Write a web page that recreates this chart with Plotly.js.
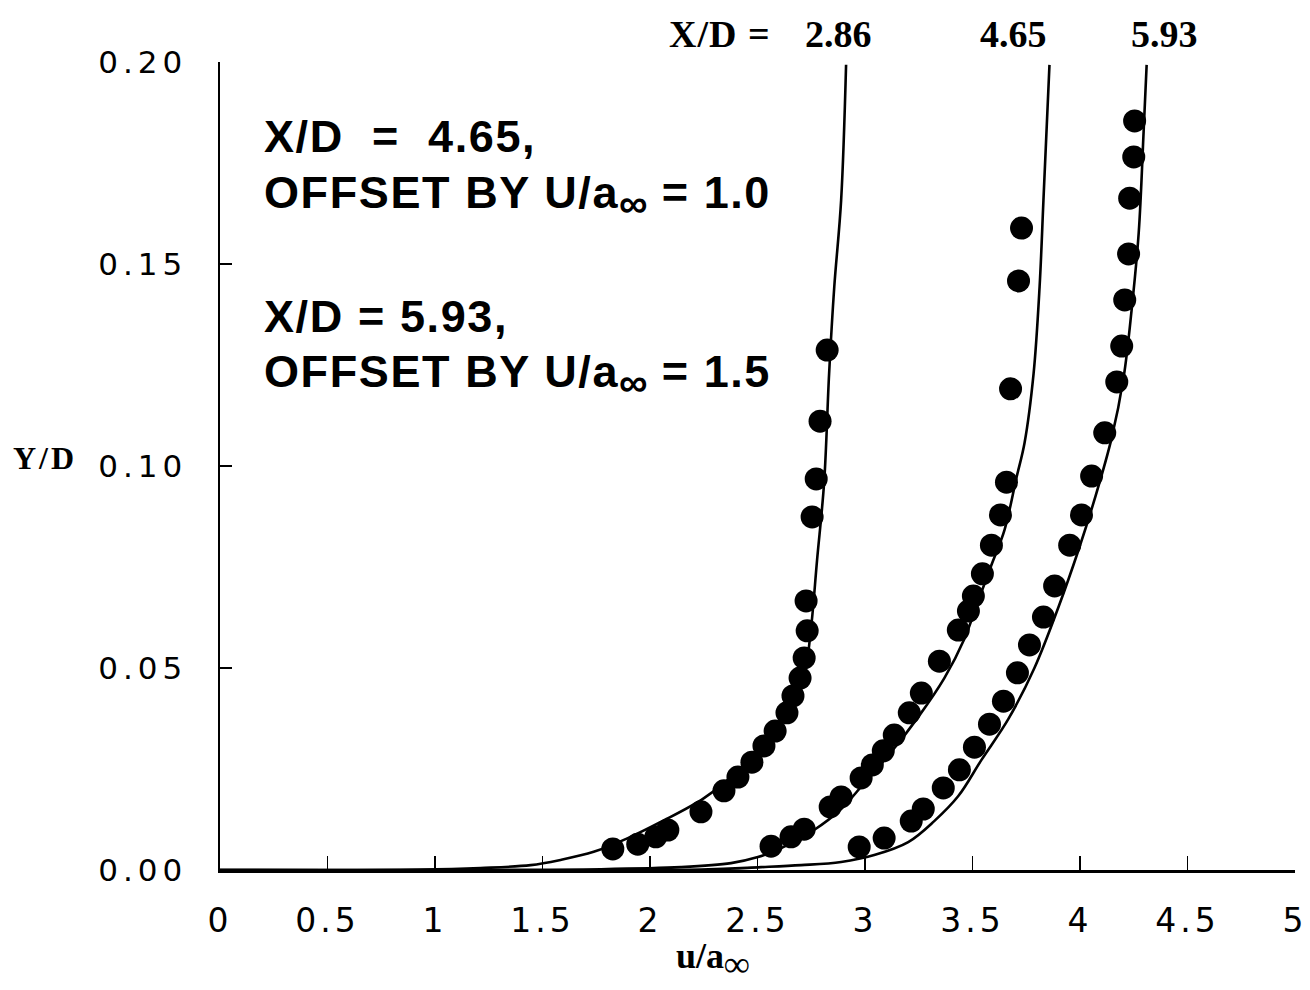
<!DOCTYPE html>
<html>
<head>
<meta charset="utf-8">
<script src="https://cdn.plot.ly/plotly-3.0.1.min.js"></script>
<style>
  html, body { margin: 0; padding: 0; background: #fff; }
  #chart { width: 1310px; height: 990px; }
  .xtick text { letter-spacing: 4px; }
  .ytick text { letter-spacing: 5px; }
</style>
</head>
<body>
<div id="chart"></div>
<script>
// Measured points (filled circles)
const dotsX_286 = [1.827,1.943,2.027,2.083,2.237,2.344,2.409,2.474,2.530,2.582,2.637,2.665,2.698,2.717,2.731,2.726,2.754,2.773,2.791,2.824];
const dotsY_286 = [0.0052,0.0064,0.0082,0.0099,0.0144,0.0196,0.0230,0.0267,0.0307,0.0344,0.0389,0.0431,0.0475,0.0525,0.0592,0.0666,0.0874,0.0968,0.1111,0.1287];

const dotsX_465 = [2.563,2.656,2.717,2.838,2.889,2.982,3.034,3.085,3.136,3.206,3.262,3.346,3.434,3.481,3.504,3.546,3.588,3.630,3.658,3.677,3.714,3.728];
const dotsY_465 = [0.0059,0.0082,0.0101,0.0156,0.0181,0.0228,0.0260,0.0295,0.0334,0.0389,0.0438,0.0517,0.0594,0.0641,0.0678,0.0733,0.0804,0.0879,0.0960,0.1191,0.1458,0.1589];

const dotsX_593 = [2.973,3.089,3.215,3.271,3.364,3.439,3.509,3.579,3.644,3.709,3.765,3.830,3.882,3.952,4.007,4.054,4.115,4.171,4.194,4.208,4.226,4.231,4.250,4.254];
const dotsY_593 = [0.0057,0.0079,0.0121,0.0151,0.0203,0.0248,0.0304,0.0361,0.0418,0.0488,0.0557,0.0626,0.0703,0.0804,0.0879,0.0975,0.1082,0.1208,0.1297,0.1411,0.1525,0.1663,0.1765,0.1854];

// Computed profiles (solid lines)
const curveX_286 = [0,0.932,1.212,1.445,1.584,1.738,1.897,2.050,2.251,2.423,2.549,2.656,2.717,2.749,2.777,2.810,2.833,2.857,2.889,2.912];
const curveY_286 = [0,0.0001,0.0005,0.0012,0.0025,0.0045,0.0079,0.0119,0.0178,0.0252,0.0322,0.0396,0.0478,0.0599,0.0767,0.0960,0.1228,0.1443,0.1658,0.1993];

const curveX_465 = [0,1.771,2.144,2.377,2.502,2.610,2.763,2.889,2.996,3.122,3.248,3.369,3.462,3.528,3.588,3.649,3.704,3.742,3.784,3.812,3.830,3.858];
const curveY_465 = [0,0.0002,0.0007,0.0017,0.0032,0.0054,0.0099,0.0151,0.0215,0.0292,0.0379,0.0475,0.0572,0.0668,0.0755,0.0842,0.0970,0.1057,0.1228,0.1443,0.1658,0.1993];

const curveX_593 = [0,2.237,2.516,2.703,2.889,3.043,3.201,3.322,3.434,3.541,3.667,3.788,3.900,3.993,4.068,4.147,4.203,4.240,4.273,4.296,4.310];
const curveY_593 = [0,0.0001,0.0007,0.0012,0.0020,0.0037,0.0069,0.0121,0.0183,0.0272,0.0374,0.0500,0.0651,0.0792,0.0918,0.1069,0.1220,0.1386,0.1577,0.1829,0.1993];

const xTickVals = [0,0.5,1,1.5,2,2.5,3,3.5,4,4.5,5];
const xTickText = ['0','0.5','1','1.5','2','2.5','3','3.5','4','4.5','5'];
const yTickVals = [0,0.05,0.10,0.15,0.20];
const yTickText = ['0.00','0.05','0.10','0.15','0.20'];

const lineStyle = {color: '#000', width: 2.6, shape: 'spline', smoothing: 1.0};
const dotStyle = {color: '#000', size: 23, symbol: 'circle', line: {width: 0}};

const traces = [
  {x: curveX_286, y: curveY_286, mode: 'lines', line: lineStyle, name: 'X/D = 2.86', hoverinfo: 'skip'},
  {x: curveX_465, y: curveY_465, mode: 'lines', line: lineStyle, name: 'X/D = 4.65', hoverinfo: 'skip'},
  {x: curveX_593, y: curveY_593, mode: 'lines', line: lineStyle, name: 'X/D = 5.93', hoverinfo: 'skip'},
  {x: dotsX_286, y: dotsY_286, mode: 'markers', marker: dotStyle, cliponaxis: false, name: 'data 2.86'},
  {x: dotsX_465, y: dotsY_465, mode: 'markers', marker: dotStyle, cliponaxis: false, name: 'data 4.65'},
  {x: dotsX_593, y: dotsY_593, mode: 'markers', marker: dotStyle, cliponaxis: false, name: 'data 5.93'}
];

const L = 220, R = 1295, T = 62, B = 870;
const px = v => (v - L) / (R - L);
const py = v => (B - v) / (B - T);

const sansBold = {family: 'Liberation Sans, Arial, sans-serif', size: 45, color: '#000', weight: 'bold'};
const serifBold = {family: 'Liberation Serif, Times New Roman, serif', size: 38, color: '#000', weight: 'bold'};

function ann(text, x, y, font, xanchor, yanchor) {
  return {text: text, x: px(x), y: py(y), xref: 'paper', yref: 'paper',
          xanchor: xanchor || 'left', yanchor: yanchor || 'top', showarrow: false, font: font};
}
const sp = t => '<span style="letter-spacing:1.6px">' + t + '</span>';
const inf = sz => '<sub><span style="font-size:' + sz + 'px">∞</span></sub>';

const annotations = [
  ann('<b>' + sp('X/D  =  4.65,') + '</b>', 262, 109, sansBold),
  ann('<b>' + sp('OFFSET BY U/a') + inf(40) + sp(' = 1.0') + '</b>', 262, 165, sansBold),
  ann('<b>' + sp('X/D = 5.93,') + '</b>', 262, 289, sansBold),
  ann('<b>' + sp('OFFSET BY U/a') + inf(40) + sp(' = 1.5') + '</b>', 262, 344, sansBold),
  ann('<b><span style="letter-spacing:1px">X/D =</span></b>', 667, 11, serifBold),
  ann('<b>2.86</b>', 874, 11, serifBold, 'right'),
  ann('<b>4.65</b>', 1049, 11, serifBold, 'right'),
  ann('<b>5.93</b>', 1200, 11, serifBold, 'right'),
  ann('<b><span style="letter-spacing:3px">Y/D</span></b>', 11, 438, {family: 'Liberation Serif, Times New Roman, serif', size: 32, color: '#000', weight: 'bold'}),
  ann('<b>u/a' + inf(36) + '</b>', 713, 934, {family: 'Liberation Serif, Times New Roman, serif', size: 36, color: '#000', weight: 'bold'}, 'center')
];

const layout = {
  width: 1310, height: 990,
  margin: {l: L, r: 1310 - R, t: T, b: 990 - B, pad: 0},
  paper_bgcolor: '#fff', plot_bgcolor: '#fff',
  showlegend: false,
  xaxis: {
    range: [0, 5], tickmode: 'array', tickvals: xTickVals, ticktext: xTickText,
    ticks: 'inside', ticklen: 14, tickwidth: 1.5, tickcolor: '#000',
    showline: true, linewidth: 2.5, linecolor: '#000', mirror: false,
    showgrid: false, zeroline: false, fixedrange: true,
    tickfont: {family: 'DejaVu Sans, sans-serif', size: 33, color: '#000'},
    ticklabelstandoff: 20
  },
  yaxis: {
    range: [0, 0.2], tickmode: 'array', tickvals: yTickVals, ticktext: yTickText,
    ticks: 'inside', ticklen: 12, tickwidth: 1.5, tickcolor: '#000',
    showline: true, linewidth: 2.5, linecolor: '#000', mirror: false,
    showgrid: false, zeroline: false, fixedrange: true,
    tickfont: {family: 'DejaVu Sans, sans-serif', size: 31, color: '#000'},
    ticklabelstandoff: 24
  },
  annotations: annotations
};

Plotly.newPlot('chart', traces, layout, {staticPlot: true, displayModeBar: false});
</script>
</body>
</html>
